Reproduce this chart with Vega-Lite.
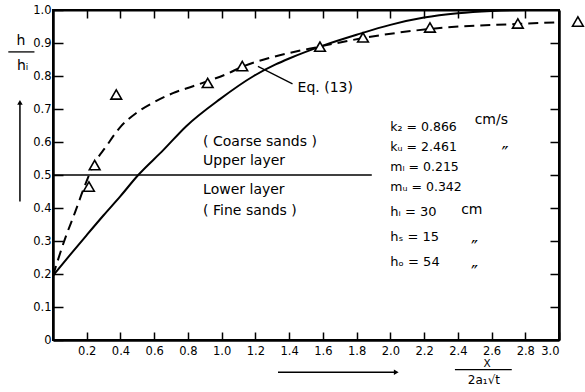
{
  "$schema": "https://vega.github.io/schema/vega-lite/v6.json",
  "width": 506,
  "height": 330,
  "autosize": {"type": "none"},
  "padding": {"left": 53, "top": 10, "right": 26, "bottom": 52},
  "background": "white",
  "config": {
    "view": {"stroke": "black", "strokeWidth": 2},
    "font": "DejaVu Sans",
    "axis": {"grid": false, "domainColor": "black", "tickColor": "black", "labelColor": "black", "labelFont": "DejaVu Sans", "labelFontSize": 11.5, "title": null}
  },
  "datasets": {
    "one": [{}],
    "eq13": [
      {"x": 0, "y": 0.195}, {"x": 0.1, "y": 0.257}, {"x": 0.2, "y": 0.318}, {"x": 0.3, "y": 0.378},
      {"x": 0.4, "y": 0.436}, {"x": 0.5, "y": 0.497}, {"x": 0.655, "y": 0.576}, {"x": 0.79, "y": 0.648},
      {"x": 0.99, "y": 0.73}, {"x": 1.19, "y": 0.8}, {"x": 1.32, "y": 0.835}, {"x": 1.4, "y": 0.853},
      {"x": 1.6, "y": 0.892}, {"x": 1.8, "y": 0.925}, {"x": 2.0, "y": 0.955}, {"x": 2.2, "y": 0.977},
      {"x": 2.4, "y": 0.99}, {"x": 2.6, "y": 0.997}, {"x": 2.8, "y": 1.0}, {"x": 3.0, "y": 1.0}
    ],
    "dashed": [
      {"x": 0, "y": 0.195}, {"x": 0.07, "y": 0.305}, {"x": 0.13, "y": 0.386}, {"x": 0.18, "y": 0.456},
      {"x": 0.237, "y": 0.527}, {"x": 0.316, "y": 0.587}, {"x": 0.395, "y": 0.643}, {"x": 0.494, "y": 0.688},
      {"x": 0.593, "y": 0.719}, {"x": 0.711, "y": 0.748}, {"x": 0.83, "y": 0.769}, {"x": 0.92, "y": 0.785},
      {"x": 1.025, "y": 0.805}, {"x": 1.126, "y": 0.829}, {"x": 1.3, "y": 0.857}, {"x": 1.58, "y": 0.889},
      {"x": 1.84, "y": 0.915}, {"x": 2.24, "y": 0.943}, {"x": 2.76, "y": 0.958}, {"x": 3.0, "y": 0.963}
    ],
    "obs": [
      {"x": 0.213, "y": 0.465}, {"x": 0.247, "y": 0.53}, {"x": 0.375, "y": 0.744}, {"x": 0.917, "y": 0.779},
      {"x": 1.122, "y": 0.83}, {"x": 1.583, "y": 0.889}, {"x": 1.838, "y": 0.917}, {"x": 2.235, "y": 0.947},
      {"x": 2.756, "y": 0.959}, {"x": 3.112, "y": 0.965}
    ]
  },
  "layer": [
    {
      "data": {"name": "eq13"},
      "mark": {"type": "line", "color": "black", "strokeWidth": 2, "interpolate": "monotone"},
      "encoding": {
        "x": {"field": "x", "type": "quantitative", "scale": {"domain": [0, 3], "nice": false, "zero": false},
          "axis": {"orient": "bottom", "values": [0.2, 0.4, 0.6, 0.8, 1.0, 1.2, 1.4, 1.6, 1.8, 2.0, 2.2, 2.4, 2.6, 2.8, 3.0],
            "labelExpr": "format(datum.value, '.1f')", "tickSize": -8, "tickWidth": 1.5, "labelPadding": 13, "domainWidth": 2.5}},
        "y": {"field": "y", "type": "quantitative", "scale": {"domain": [0, 1], "nice": false},
          "axis": {"orient": "left", "values": [0, 0.1, 0.2, 0.3, 0.4, 0.5, 0.6, 0.7, 0.8, 0.9, 1.0],
            "labelExpr": "datum.value == 0 ? '0' : format(datum.value, '.1f')", "tickSize": -10, "tickWidth": 1.5, "labelPadding": 12, "domainWidth": 2.5}}
      }
    },
    {
      "data": {"name": "dashed"},
      "mark": {"type": "line", "color": "black", "strokeWidth": 2, "strokeDash": [10, 6], "interpolate": "monotone"},
      "encoding": {
        "x": {"field": "x", "type": "quantitative", "axis": null},
        "y": {"field": "y", "type": "quantitative", "axis": null}
      }
    },
    {
      "data": {"name": "obs"},
      "mark": {"type": "point", "shape": "triangle-up", "filled": false, "stroke": "black", "strokeWidth": 1.6, "size": 115, "fill": "white", "fillOpacity": 1},
      "encoding": {
        "x": {"field": "x", "type": "quantitative", "axis": null},
        "y": {"field": "y", "type": "quantitative", "axis": null}
      }
    },
    {
      "data": {"name": "one"},
      "mark": {"type": "rule", "color": "black", "strokeWidth": 1.6},
      "encoding": {
        "x": {"datum": 0, "type": "quantitative",
          "axis": {"orient": "top", "values": [0.2, 0.4, 0.6, 0.8, 1.0, 1.2, 1.4, 1.6, 1.8, 2.0, 2.2, 2.4, 2.6, 2.8], "labels": false, "tickSize": -8, "tickWidth": 1.5, "domainWidth": 2}},
        "x2": {"datum": 1.89},
        "y": {"datum": 0.5, "type": "quantitative",
          "axis": {"orient": "right", "values": [0.1, 0.2, 0.3, 0.4, 0.5, 0.6, 0.7, 0.8, 0.9], "labels": false, "tickSize": -9, "tickWidth": 1.5, "domainWidth": 2.5}}
      }
    },
    {
      "data": {"name": "one"},
      "mark": {"type": "rule", "color": "black", "strokeWidth": 1.3},
      "encoding": {
        "x": {"datum": 1.215, "type": "quantitative", "axis": null},
        "y": {"datum": 0.829, "type": "quantitative", "axis": null},
        "x2": {"datum": 1.42},
        "y2": {"datum": 0.776}
      }
    },
    {
      "data": {"name": "one"},
      "mark": {"type": "text", "text": "Eq. (13)", "align": "left", "baseline": "middle", "fontSize": 14, "color": "black"},
      "encoding": {
        "x": {"datum": 1.45, "type": "quantitative", "axis": null},
        "y": {"datum": 0.765, "type": "quantitative", "axis": null}
      }
    },
    {
      "data": {"name": "one"},
      "mark": {"type": "text", "text": ["( Coarse   sands )", "Upper    layer"], "align": "left", "baseline": "middle", "fontSize": 14, "lineHeight": 19, "color": "black"},
      "encoding": {
        "x": {"datum": 0.89, "type": "quantitative", "axis": null},
        "y": {"datum": 0.601, "type": "quantitative", "axis": null}
      }
    },
    {
      "data": {"name": "one"},
      "mark": {"type": "text", "text": ["Lower    layer", "( Fine   sands )"], "align": "left", "baseline": "middle", "fontSize": 14, "lineHeight": 21, "color": "black"},
      "encoding": {
        "x": {"datum": 0.89, "type": "quantitative", "axis": null},
        "y": {"datum": 0.456, "type": "quantitative", "axis": null}
      }
    },
    {
      "data": {"name": "one"},
      "mark": {"type": "text", "text": ["k₂ = 0.866", "kᵤ = 2.461", "mₗ = 0.215", "mᵤ = 0.342"], "align": "left", "baseline": "middle", "fontSize": 12.5, "lineHeight": 19.7, "color": "black"},
      "encoding": {
        "x": {"datum": 2.0, "type": "quantitative", "axis": null},
        "y": {"datum": 0.644, "type": "quantitative", "axis": null}
      }
    },
    {
      "data": {"name": "one"},
      "mark": {"type": "text", "text": ["hᵢ = 30", "hₛ = 15", "hₒ = 54"], "align": "left", "baseline": "middle", "fontSize": 13, "lineHeight": 25, "color": "black"},
      "encoding": {
        "x": {"datum": 2.0, "type": "quantitative", "axis": null},
        "y": {"datum": 0.389, "type": "quantitative", "axis": null}
      }
    },
    {
      "data": {"name": "one"},
      "mark": {"type": "text", "text": "cm/s", "align": "left", "baseline": "middle", "fontSize": 14, "color": "black"},
      "encoding": {
        "x": {"datum": 2.5, "type": "quantitative", "axis": null},
        "y": {"datum": 0.668, "type": "quantitative", "axis": null}
      }
    },
    {
      "data": {"name": "one"},
      "mark": {"type": "text", "text": "″", "align": "center", "baseline": "middle", "fontSize": 19, "color": "black"},
      "encoding": {
        "x": {"datum": 2.68, "type": "quantitative", "axis": null},
        "y": {"datum": 0.565, "type": "quantitative", "axis": null}
      }
    },
    {
      "data": {"name": "one"},
      "mark": {"type": "text", "text": "cm", "align": "left", "baseline": "middle", "fontSize": 14, "color": "black"},
      "encoding": {
        "x": {"datum": 2.42, "type": "quantitative", "axis": null},
        "y": {"datum": 0.395, "type": "quantitative", "axis": null}
      }
    },
    {
      "data": {"name": "one"},
      "mark": {"type": "text", "text": ["″", "″"], "align": "center", "baseline": "middle", "fontSize": 19, "lineHeight": 25, "color": "black"},
      "encoding": {
        "x": {"datum": 2.5, "type": "quantitative", "axis": null},
        "y": {"datum": 0.28, "type": "quantitative", "axis": null}
      }
    },
    {
      "data": {"name": "one"},
      "mark": {"type": "text", "text": "h", "align": "center", "baseline": "middle", "fontSize": 14, "color": "black"},
      "encoding": {
        "x": {"datum": -0.19, "type": "quantitative", "axis": null},
        "y": {"datum": 0.905, "type": "quantitative", "axis": null}
      }
    },
    {
      "data": {"name": "one"},
      "mark": {"type": "rule", "color": "black", "strokeWidth": 1.3},
      "encoding": {
        "x": {"datum": -0.265, "type": "quantitative", "axis": null},
        "x2": {"datum": -0.11},
        "y": {"datum": 0.873, "type": "quantitative", "axis": null}
      }
    },
    {
      "data": {"name": "one"},
      "mark": {"type": "text", "text": "hᵢ", "align": "center", "baseline": "middle", "fontSize": 14, "color": "black"},
      "encoding": {
        "x": {"datum": -0.18, "type": "quantitative", "axis": null},
        "y": {"datum": 0.83, "type": "quantitative", "axis": null}
      }
    },
    {
      "data": {"name": "one"},
      "mark": {"type": "rule", "color": "black", "strokeWidth": 1.5},
      "encoding": {
        "x": {"datum": -0.196, "type": "quantitative", "axis": null},
        "y": {"datum": 0.72, "type": "quantitative", "axis": null},
        "y2": {"datum": 0.42}
      }
    },
    {
      "data": {"name": "one"},
      "mark": {"type": "point", "shape": "triangle-up", "filled": true, "color": "black", "size": 30, "opacity": 1},
      "encoding": {
        "x": {"datum": -0.196, "type": "quantitative", "axis": null},
        "y": {"datum": 0.72, "type": "quantitative", "axis": null}
      }
    },
    {
      "data": {"name": "one"},
      "mark": {"type": "rule", "color": "black", "strokeWidth": 1.5},
      "encoding": {
        "x": {"datum": 1.334, "type": "quantitative", "axis": null},
        "x2": {"datum": 2.03},
        "y": {"datum": -0.098, "type": "quantitative", "axis": null}
      }
    },
    {
      "data": {"name": "one"},
      "mark": {"type": "point", "shape": "triangle-right", "filled": true, "color": "black", "size": 30, "opacity": 1},
      "encoding": {
        "x": {"datum": 2.035, "type": "quantitative", "axis": null},
        "y": {"datum": -0.098, "type": "quantitative", "axis": null}
      }
    },
    {
      "data": {"name": "one"},
      "mark": {"type": "text", "text": "X", "align": "center", "baseline": "middle", "fontSize": 10.5, "color": "black"},
      "encoding": {
        "x": {"datum": 2.573, "type": "quantitative", "axis": null},
        "y": {"datum": -0.072, "type": "quantitative", "axis": null}
      }
    },
    {
      "data": {"name": "one"},
      "mark": {"type": "rule", "color": "black", "strokeWidth": 1.2},
      "encoding": {
        "x": {"datum": 2.383, "type": "quantitative", "axis": null},
        "x2": {"datum": 2.72},
        "y": {"datum": -0.09, "type": "quantitative", "axis": null}
      }
    },
    {
      "data": {"name": "one"},
      "mark": {"type": "text", "text": "2a₁√t", "align": "center", "baseline": "middle", "fontSize": 12, "color": "black"},
      "encoding": {
        "x": {"datum": 2.555, "type": "quantitative", "axis": null},
        "y": {"datum": -0.12, "type": "quantitative", "axis": null}
      }
    }
  ],
  "resolve": {"axis": {"x": "independent", "y": "independent"}}
}
